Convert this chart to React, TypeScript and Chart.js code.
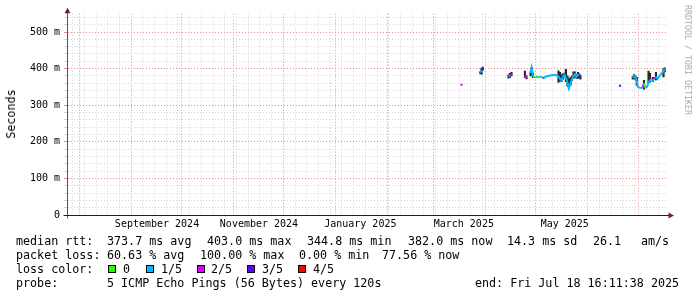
import React, { useEffect, useRef } from 'react';
import { Chart, registerables } from 'chart.js';

Chart.register(...registerables);

// ---------- data ----------
const X_START = '2024-07-24T15:32:00Z';
const X_END = '2025-07-18T22:20:00Z';
const FIRST_WEEK_LINE = '2024-07-28T00:00:00Z';

const sampleTimes: string[] = [
  '2025-03-17T12:00', '2025-03-23T00:00',
  '2025-03-28T18:00', '2025-03-29T11:00', '2025-03-30T04:00', '2025-04-07T00:00',
  '2025-04-14T14:00', '2025-04-15T11:00', '2025-04-16T09:00', '2025-04-20T00:00',
  '2025-04-24T10:00', '2025-04-25T08:00', '2025-04-26T12:00',
  '2025-04-27T20:00', '2025-04-28T10:00', '2025-04-29T05:00', '2025-04-29T19:00', '2025-04-30T17:00',
  '2025-05-01T14:00', '2025-05-02T12:00', '2025-05-03T09:00', '2025-05-04T07:00', '2025-05-04T21:00',
  '2025-05-05T19:00', '2025-05-06T16:00', '2025-05-07T14:00', '2025-05-08T11:00', '2025-05-09T09:00',
  '2025-05-10T06:00', '2025-05-11T04:00', '2025-05-12T01:00', '2025-05-12T23:00', '2025-05-13T20:00',
  '2025-05-14T11:00', '2025-05-15T08:00', '2025-05-16T06:00', '2025-05-17T03:00', '2025-05-18T01:00',
  '2025-05-18T22:00', '2025-05-19T20:00', '2025-05-20T17:00', '2025-05-21T15:00', '2025-05-22T12:00',
  '2025-05-23T10:00', '2025-05-24T08:00', '2025-05-25T05:00', '2025-05-26T03:00', '2025-05-27T00:00',
  '2025-05-27T14:00', '2025-06-05T00:00',
  '2025-06-20T05:00', '2025-06-24T00:00',
  '2025-06-27T21:00', '2025-06-28T15:00', '2025-06-29T12:00', '2025-06-30T07:00', '2025-07-01T00:00',
  '2025-07-01T21:00', '2025-07-02T19:00', '2025-07-03T16:00', '2025-07-04T14:00', '2025-07-05T11:00',
  '2025-07-06T09:00', '2025-07-07T07:00', '2025-07-08T04:00', '2025-07-09T02:00', '2025-07-09T23:00',
  '2025-07-10T21:00', '2025-07-11T18:00', '2025-07-12T16:00', '2025-07-13T13:00', '2025-07-14T11:00',
  '2025-07-15T08:00', '2025-07-16T06:00', '2025-07-16T23:00',
];

const medianMs: (number | null)[] = [
  356, null,
  389, 396, 403, null,
  378, 381, 386, null,
  380, 375, null,
  388, 402, 380, 377, 376,
  378, 377, 376, 379, 376,
  373, 378, 379, 380, 381,
  382, 382, 383, 382, 381,
  378, 372, 368, 378, 383,
  375, 362, 346, 360, 372,
  380, 385, 378, 383, 382,
  376, null,
  353, null,
  375, 380, 376, 365, 350,
  348, 347, 348, 360, 347,
  350, 362, 368, 370, 368,
  372, 378, 372, 378, 383,
  388, 393, 400,
];

// number of lost pings out of 5
const lossCount: (number | null)[] = [
  2, null,
  4, 1, 3, null,
  1, 1, 2, null,
  2, 2, null,
  1, 1, 1, 0, 0,
  1, 0, 0, 1, 0,
  2, 1, 1, 1, 1,
  1, 1, 1, 1, 1,
  1, 1, 1, 1, 1,
  1, 1, 1, 1, 1,
  1, 1, 1, 1, 1,
  3, null,
  3, null,
  3, 1, 1, 1, 1,
  1, 1, 1, 2, 0,
  1, 1, 1, 1, 1,
  1, 2, 1, 1, 1,
  1, 1, 1,
];

const smokeLowMs: (number | null)[] = [
  null, null,
  386, 385, 396, null,
  374, 376, 380, null,
  376, 372, null,
  380, 385, 375, null, null,
  null, null, null, null, null,
  null, null, null, null, null,
  null, null, null, null, null,
  362, 366, 364, 371, 377,
  364, 352, 345, 354, 367,
  373, 377, 373, 373, 376,
  371, null,
  null, null,
  371, 373, 369, 354, null,
  null, null, null, 344, null,
  null, 361, 363, null, 365,
  null, 369, null, null, null,
  null, 377, 391,
];

const smokeHighMs: (number | null)[] = [
  null, null,
  392, 401, 404, null,
  383, 387, 390, null,
  393, 380, null,
  392, 403, 388, null, null,
  null, null, null, null, null,
  null, null, null, null, null,
  null, null, null, null, null,
  394, 390, 383, 386, 388,
  398, 380, 373, 376, 380,
  391, 391, 384, 390, 386,
  380, null,
  null, null,
  379, 384, 380, 376, null,
  null, null, null, 368, null,
  null, 393, 388, null, 376,
  null, 390, null, null, null,
  null, 400, 402,
];

const monthLabelTexts = ['September 2024', 'November 2024', 'January 2025', 'March 2025', 'May 2025'];
const monthLabelTimes = ['2024-09-16T11:00:00Z', '2024-11-16T10:00:00Z', '2025-01-16T00:00:00Z', '2025-03-18T21:00:00Z', '2025-05-18T05:00:00Z'];

const lossColors = ['#26ff00', '#00b8ff', '#dd00ff', '#5e00ff', '#ff0000'];
const lossLabels = ['0', '1/5', '2/5', '3/5', '4/5'];

// ---------- styling ----------
const MONO = "'DejaVu Sans Mono', monospace";
const MINOR = '#d6d6d6';
const MAJOR = '#e68c8c';
const AXIS = '#1f1f1f';
const ARROW = '#801f1f';
const SMOKE = '#2a2a2a';

const DAY = 86400000;
const tMin = Date.parse(X_START);
const tMax = Date.parse(X_END);

const gridKind = new Map<number, string>();
for (let t = Date.parse(FIRST_WEEK_LINE); t <= tMax; t += 7 * DAY) gridKind.set(t, 'week');
for (let m = 0; ; m++) {
  const d = Date.UTC(2024, 7 + m, 1);
  if (d > tMax) break;
  gridKind.set(d, 'month');
}
const labelMap = new Map<number, string>();
monthLabelTimes.forEach((s, i) => labelMap.set(Date.parse(s), monthLabelTexts[i]));
const xTickValues = Array.from(new Set([...gridKind.keys(), ...labelMap.keys()])).sort((a, b) => a - b);

const times = sampleTimes.map((s) => Date.parse(s + ':00Z'));
const lineData = times.map((t, i) => ({ x: t, y: medianMs[i] }));
const smokeData = times
  .map((t, i) => (smokeLowMs[i] == null || smokeHighMs[i] == null ? null : { x: t, y: [smokeLowMs[i], smokeHighMs[i]] }))
  .filter((d) => d !== null);
const isolated = medianMs.map(
  (v, i) => v != null && (i === 0 || medianMs[i - 1] == null) && (i === medianMs.length - 1 || medianMs[i + 1] == null)
);

const axisArrows = {
  id: 'axisArrows',
  afterDraw(chart: any) {
    const { ctx, chartArea: a } = chart;
    const xl = Math.floor(a.left) + 0.5;
    const yb = Math.floor(a.bottom) + 0.5;
    ctx.save();
    ctx.lineWidth = 1;
    ctx.strokeStyle = '#555555';
    ctx.beginPath();
    ctx.moveTo(xl, yb + 3);
    ctx.lineTo(xl, a.top - 1);
    ctx.stroke();
    ctx.strokeStyle = AXIS;
    ctx.beginPath();
    ctx.moveTo(xl - 4, yb);
    ctx.lineTo(a.right + 1, yb);
    ctx.stroke();
    ctx.fillStyle = ARROW;
    ctx.beginPath();
    ctx.moveTo(xl, a.top - 6);
    ctx.lineTo(xl - 3, a.top - 0.5);
    ctx.lineTo(xl + 3, a.top - 0.5);
    ctx.closePath();
    ctx.fill();
    ctx.beginPath();
    ctx.moveTo(a.right + 6, yb);
    ctx.lineTo(a.right + 0.5, yb - 3);
    ctx.lineTo(a.right + 0.5, yb + 3);
    ctx.closePath();
    ctx.fill();
    ctx.restore();
  },
};

export default function App() {
  const ref = useRef<HTMLCanvasElement>(null);

  useEffect(() => {
    if (!ref.current) return;
    const chart = new Chart(ref.current, {
      type: 'line',
      data: {
        datasets: [
          {
            type: 'line',
            data: lineData as any,
            borderWidth: 2,
            borderColor: lossColors[1],
            segment: {
              borderColor: (c: any) => lossColors[lossCount[c.p1DataIndex] ?? 1],
            },
            pointStyle: 'rect',
            pointRadius: (c: any) => (isolated[c.dataIndex] ? 1.5 : 0),
            pointBackgroundColor: (c: any) => lossColors[lossCount[c.dataIndex] ?? 1],
            pointBorderWidth: 0,
            spanGaps: false,
            tension: 0,
            order: 0,
          } as any,
          {
            type: 'bar',
            data: smokeData as any,
            backgroundColor: SMOKE,
            borderWidth: 0,
            barThickness: 1.5,
            grouped: false,
            order: 1,
          } as any,
        ],
      },
      options: {
        animation: false,
        responsive: false,
        devicePixelRatio: 1,
        events: [],
        layout: { padding: { left: 0, right: 29, top: 13.7, bottom: 0 } },
        plugins: { legend: { display: false }, tooltip: { enabled: false }, title: { display: false } },
        scales: {
          x: {
            type: 'linear',
            min: tMin,
            max: tMax,
            offset: false,
            afterBuildTicks: (scale: any) => {
              scale.ticks = xTickValues.map((v) => ({ value: v }));
            },
            afterFit: (scale: any) => {
              scale.height = 82;
            },
            ticks: {
              autoSkip: false,
              maxRotation: 0,
              minRotation: 0,
              padding: 3,
              color: '#000',
              font: { family: MONO, size: 10 },
              callback: (v: any) => labelMap.get(Number(v)) ?? '',
            },
            grid: {
              offset: false,
              drawTicks: false,
              lineWidth: 1,
              color: (c: any) => {
                const k = gridKind.get(c.tick?.value);
                return k === 'month' ? MAJOR : k === 'week' ? MINOR : 'rgba(0,0,0,0)';
              },
            },
            border: { display: true, color: AXIS, width: 1, dash: [1, 2] },
          },
          y: {
            type: 'linear',
            min: 0,
            max: 550,
            afterFit: (scale: any) => {
              scale.width = 67;
            },
            ticks: {
              stepSize: 20,
              includeBounds: false,
              autoSkip: false,
              padding: 4,
              color: '#000',
              font: { family: MONO, size: 10 },
              callback: (v: any) => (v === 0 ? '0' : v % 100 === 0 ? `${v} m` : ''),
            },
            grid: {
              drawTicks: true,
              tickLength: 3,
              lineWidth: 1,
              color: (c: any) => ((c.tick?.value ?? 0) % 100 === 0 ? MAJOR : MINOR),
            },
            border: { display: true, color: '#555555', width: 1, dash: [1, 2] },
          },
        },
      },
      plugins: [axisArrows],
    } as any);
    return () => chart.destroy();
  }, []);

  const line = (top: number, children: React.ReactNode) => (
    <div style={{ position: 'absolute', left: 0, top, width: 697, height: 14, lineHeight: '14px' }}>{children}</div>
  );
  const seg = (left: number, text: string) => (
    <span key={left} style={{ position: 'absolute', left, top: 0, whiteSpace: 'pre' }}>{text}</span>
  );
  const boxLefts = [108, 146, 197, 247, 298];
  const boxLabelLefts = [123, 161, 211, 262, 313];

  return (
    <div
      style={{
        position: 'absolute',
        left: 0,
        top: 0,
        width: 697,
        height: 297,
        overflow: 'hidden',
        background: '#ffffff',
        fontFamily: MONO,
        fontSize: '11.7px',
        color: '#000',
      }}
    >
      <canvas ref={ref} width={697} height={297} style={{ position: 'absolute', left: 0, top: 0, width: 697, height: 297 }} />
      <div
        style={{
          position: 'absolute',
          left: 11,
          top: 113.5,
          transform: 'translate(-50%, -50%) rotate(-90deg)',
          whiteSpace: 'nowrap',
          lineHeight: '14px',
        }}
      >
        Seconds
      </div>
      <div
        style={{
          position: 'absolute',
          left: 687.5,
          top: 60,
          transform: 'translate(-50%, -50%) rotate(90deg)',
          whiteSpace: 'nowrap',
          fontSize: '8.3px',
          lineHeight: '10px',
          color: '#aaaaaa',
        }}
      >
        RRDTOOL / TOBI OETIKER
      </div>
      {line(234.4, [
        seg(16, 'median rtt:'),
        seg(107, '373.7 ms avg'),
        seg(207, '403.0 ms max'),
        seg(307, '344.8 ms min'),
        seg(408, '382.0 ms now'),
        seg(507, '14.3 ms sd'),
        seg(593, '26.1'),
        seg(641, 'am/s'),
      ])}
      {line(248.3, [
        seg(16, 'packet loss:'),
        seg(107, '60.63 % avg'),
        seg(200, '100.00 % max'),
        seg(299, '0.00 % min'),
        seg(382, '77.56 % now'),
      ])}
      {line(262.1, [
        seg(16, 'loss color:'),
        ...lossColors.map((c, i) => (
          <span
            key={'b' + i}
            style={{
              position: 'absolute',
              left: boxLefts[i],
              top: 3,
              width: 8,
              height: 8,
              boxSizing: 'border-box',
              border: '1px solid #000',
              background: c,
            }}
          />
        )),
        ...lossLabels.map((l, i) => seg(boxLabelLefts[i], l)),
      ])}
      {line(276.0, [
        seg(16, 'probe:'),
        seg(107, '5 ICMP Echo Pings (56 Bytes) every 120s'),
        seg(475, 'end: Fri Jul 18 16:11:38 2025'),
      ])}
    </div>
  );
}
